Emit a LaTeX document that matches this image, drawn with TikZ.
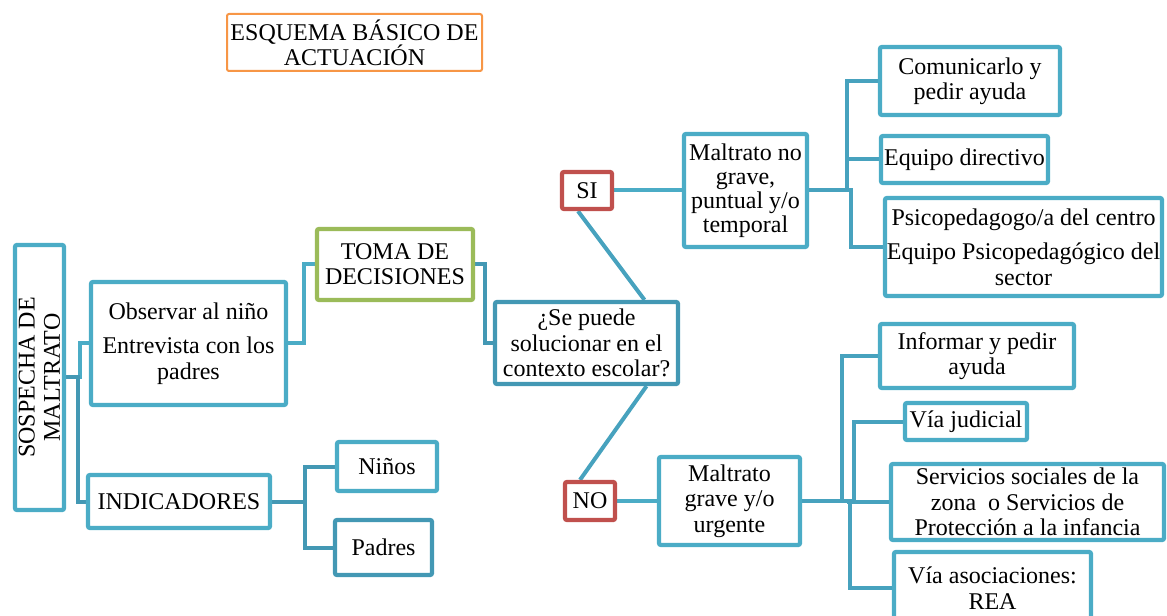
\documentclass[tikz,border=0pt]{standalone}
\usepackage{fontspec}
\setmainfont{Liberation Serif}
\usetikzlibrary{calc,backgrounds}
\definecolor{lb}{HTML}{4BACC6}
\definecolor{db}{HTML}{4398B4}
\definecolor{mb}{HTML}{47A2BE}
\definecolor{rd}{HTML}{C0504D}
\definecolor{gr}{HTML}{9BBB59}
\definecolor{orng}{HTML}{F79646}
\tikzset{
  sz/.style 2 args={minimum width=#1*0.75pt, minimum height=#2*0.75pt},
  base/.style={draw, fill=white, line width=3.2pt, rounded corners=1.5pt, inner sep=0pt,
    align=center, text=black, font=\fontsize{18}{19}\selectfont},
  boxL/.style={base, draw=lb},
  boxD/.style={base, draw=db},
  boxG/.style={base, draw=gr},
  boxR/.style={base, draw=rd},
  titlebox/.style={base, draw=orng, line width=1.5pt, font=\fontsize{18}{19}\selectfont},
  cL/.style={draw=lb, line width=3pt},
  cD/.style={draw=db, line width=3pt},
  cM/.style={draw=mb, line width=3pt},
}
\begin{document}
\begin{tikzpicture}[x=0.75pt, y=-0.75pt]
\useasboundingbox (0,0) rectangle (1167,616);
\clip (0,0) rectangle (1167,616);

\node[titlebox, sz={255}{57}] (title) at (354.5,42.5) {ESQUEMA BÁSICO DE\\ACTUACIÓN};
\node[boxL, rotate=90, sz={265}{49}] (sos) at (39.5,377.5) {SOSPECHA DE\\MALTRATO};
\node[boxL, sz={195}{123}] (obs) at (188.5,343.5) {Observar al niño\\[7pt]Entrevista con los\\padres};
\node[boxL, sz={182}{53}] (ind) at (179,501.5) {INDICADORES};
\node[boxG, sz={156}{71}] (toma) at (395,264.5) {TOMA DE\\DECISIONES};
\node[boxD, sz={183}{82}] (dec) at (586.5,343) {¿Se puede\\solucionar en el\\contexto escolar?};
\node[boxR, sz={50}{37}] (si) at (587,190.5) {SI};
\node[boxR, sz={50}{38}] (no) at (590,501) {NO};
\node[boxL, sz={100}{49}] (ninos) at (387,466.5) {Niños};
\node[boxD, sz={97}{55}] (padres) at (383.5,547.5) {Padres};
\node[boxL, sz={123}{113}, font=\fontsize{18}{18}\selectfont] (mnog) at (745.5,190.5) {Maltrato no\\grave,\\puntual y/o\\temporal};
\node[boxL, sz={180}{68}] (com) at (970,81) {Comunicarlo y\\pedir ayuda};
\node[boxL, sz={167}{47}] (eqd) at (964.5,159.5) {Equipo directivo};
\node[boxL, sz={277}{98}] (psi) at (1023.5,247) {Psicopedagogo/a del centro\\[7pt]Equipo Psicopedagógico del\\sector};
\node[boxL, sz={141}{88}] (mg) at (729.5,501) {Maltrato\\grave y/o\\urgente};
\node[boxL, sz={194}{64}] (inf) at (977,356) {Informar y pedir\\ayuda};
\node[boxL, sz={122}{37}] (vj) at (966,421.5) {Vía judicial};
\node[boxL, sz={273}{76}] (serv) at (1027.5,502) {Servicios sociales de la\\zona\ \ o Servicios de\\Protección a la infancia};
\node[boxL, sz={197}{72}] (via) at (992.5,588) {Vía asociaciones:\\REA};

\begin{scope}[on background layer]
\draw[cL] (sos.south) -- ++(14,0) |- (obs.west);
\draw[cD] (sos.south) -- ++(12,0) |- (ind.west);
\draw[cL] (obs.east) -- ++(16,0) |- (toma.west);
\draw[cD] (toma.east) -- ++(10,0) |- (dec.west);
\draw[cD] (ind.east) -- ++(33,0) |- (ninos.west);
\draw[cD] (ind.east) -- ++(33,0) |- (padres.west);
\draw[cM] ($(si.south)+(-9,0)$) -- ($(dec.north)+(58,0)$);
\draw[cM] ($(dec.south)+(60,0)$) -- ($(no.north)+(-10,0)$);
\draw[cL] (si.east) -- (mnog.west);
\draw[cL] (no.east) -- (mg.west);
\draw[cM] (mnog.east) -- ++(38,0) |- (com.west);
\draw[cM] (mnog.east) -- ++(38,0) |- (eqd.west);
\draw[cM] (mnog.east) -- ++(42,0) |- (psi.west);
\draw[cM] (mg.east) -- ++(40,0) |- (inf.west);
\draw[cM] (mg.east) -- ++(52,0) |- (vj.west);
\draw[cM] (mg.east) -- ++(47,0) |- (serv.west);
\draw[cM] (mg.east) -- ++(48,0) |- (via.west);
\end{scope}
\end{tikzpicture}
\end{document}
